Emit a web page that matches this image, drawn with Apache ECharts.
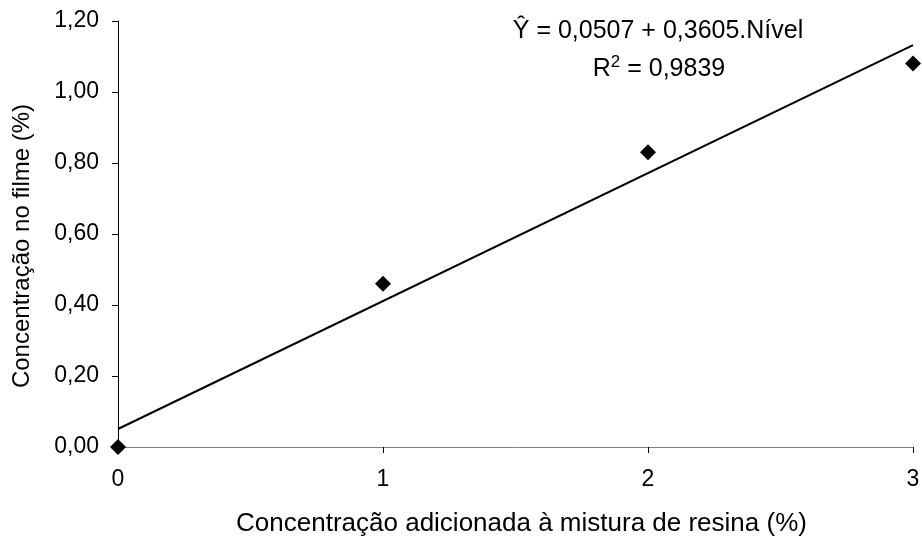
<!DOCTYPE html>
<html>
<head>
<meta charset="utf-8">
<script src="https://cdn.jsdelivr.net/npm/echarts@6/dist/echarts.min.js"></script>
<style>
html,body{margin:0;padding:0;background:#fff;}
#chart{width:922px;height:542px;}
</style>
</head>
<body>
<div id="chart"></div>
<script>
// Data
var levels = [0, 1, 2, 3];
var concentrations = [0.00, 0.46, 0.83, 1.08];
var trendX = [0, 3];
var trendY = [0.0507, 1.1322];
var yTicks = ['0,00', '0,20', '0,40', '0,60', '0,80', '1,00', '1,20'];
var xTicks = ['0', '1', '2', '3'];
var equationText = 'Ŷ = 0,0507 + 0,3605.Nível';
var r2Text = '0,9839';
var xName = 'Concentração adicionada à mistura de resina (%)';
var yName = 'Concentração no filme (%)';

var font = '"Liberation Sans", Arial, sans-serif';
var chart = echarts.init(document.getElementById('chart'), null, {renderer: 'canvas'});

var points = levels.map(function (x, i) { return [x, concentrations[i]]; });
var trend = trendX.map(function (x, i) { return [x, trendY[i]]; });

chart.setOption({
  animation: false,
  backgroundColor: '#ffffff',
  grid: {left: 118, right: 9, top: 21, bottom: 95, containLabel: false, outerBoundsMode: 'none'},
  xAxis: {
    type: 'value', min: 0, max: 3, interval: 1,
    name: xName, nameLocation: 'middle', nameGap: 64,
    nameTextStyle: {fontFamily: font, fontSize: 26, color: '#000', padding: [0, 0, 0, 12]},
    axisLine: {show: true, lineStyle: {color: '#808080', width: 1}},
    axisTick: {show: true, inside: false, length: 6, lineStyle: {color: '#000', width: 1}},
    axisLabel: {
      margin: 21, fontFamily: font, fontSize: 23, color: '#000',
      formatter: function (v) { return xTicks[Math.round(v)]; }
    },
    splitLine: {show: false}
  },
  yAxis: {
    type: 'value', min: 0, max: 1.2, interval: 0.2,
    axisLine: {show: true, lineStyle: {color: '#000', width: 1}},
    axisTick: {show: true, inside: false, length: 6, lineStyle: {color: '#000', width: 1}},
    axisLabel: {
      margin: 19, fontFamily: font, fontSize: 23, color: '#000',
      formatter: function (v) { return yTicks[Math.round(v / 0.2)]; }
    },
    splitLine: {show: false}
  },
  graphic: [
    {
      type: 'text', x: 22, y: 246, rotation: Math.PI / 2, z: 100,
      style: {text: yName, font: '24px ' + font, fill: '#000', align: 'center', verticalAlign: 'middle'}
    },
    {
      type: 'text', x: 658, y: 31, z: 100,
      style: {text: equationText, font: '25px ' + font, fill: '#000', align: 'center', verticalAlign: 'middle'}
    },
    {
      type: 'text', x: 659, y: 68, z: 100,
      style: {
        text: '{n|R}{s|2}{n| = ' + r2Text + '}',
        align: 'center', verticalAlign: 'middle',
        rich: {
          n: {font: '25px ' + font, fill: '#000', color: '#000', verticalAlign: 'bottom', lineHeight: 28},
          s: {font: '17px ' + font, fill: '#000', color: '#000', verticalAlign: 'top', lineHeight: 20, padding: [0, 0, 8, 0]}
        }
      }
    }
  ],
  series: [
    {
      type: 'line', data: trend, showSymbol: false, symbol: 'none',
      lineStyle: {color: '#000', width: 2}, z: 2, silent: true
    },
    {
      type: 'scatter', data: points, symbol: 'diamond', symbolSize: 16,
      itemStyle: {color: '#000', opacity: 1}, clip: false, z: 3
    }
  ]
});
</script>
</body>
</html>
